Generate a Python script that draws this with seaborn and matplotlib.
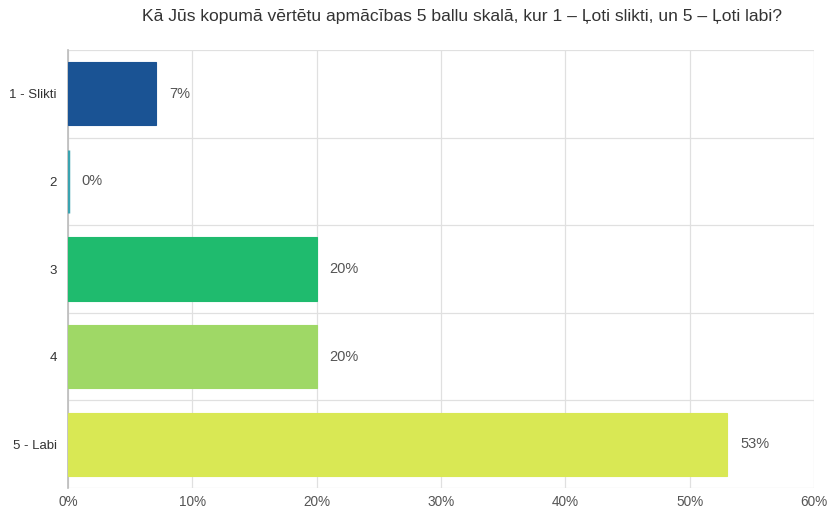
import matplotlib
matplotlib.use("Agg")
import matplotlib.pyplot as plt
import seaborn as sns
import pandas as pd
import numpy as np

categories = ["1 - Slikti", "2", "3", "4", "5 - Labi"]
values = [7.1, 0.0, 20.0, 20.0, 53.0]
labels = ["7%", "0%", "20%", "20%", "53%"]
colors = ["#1a5394", "#3aa3b0", "#1fbb6e", "#9fd866", "#d9e854"]
xticks = [0, 10, 20, 30, 40, 50, 60]
title = "Kā Jūs kopumā vērtētu apmācības 5 ballu skalā, kur 1 – Ļoti slikti, un 5 – Ļoti labi?"

sns.set_theme(style="white")
plt.rcParams['font.family'] = ['Liberation Sans', 'DejaVu Sans']

df = pd.DataFrame({"cat": categories, "val": values})

fig = plt.figure(figsize=(8.27, 5.08), dpi=100)
ax = fig.add_axes([68/827, 1-488/508, (814-68)/827, (488-50)/508])

sns.barplot(data=df, y="cat", x="val", hue="cat", palette=colors, order=categories,
            hue_order=categories, orient="h", width=0.72, saturation=1, legend=False,
            ax=ax, zorder=3)

for p, c, v in zip(ax.patches, colors, values):
    p.set_edgecolor(c)
    p.set_linewidth(2.5 if v == 0 else 0.8)
    p.set_zorder(5)

ax.set_xlim(0, 60)
ax.set_ylim(4.5, -0.5)
ax.set_xticks(xticks)
ax.set_xticklabels([f"{t}%" for t in xticks])
ax.set_yticks(range(len(categories)))
ax.set_yticklabels(categories)
ax.set_yticks(np.arange(-0.5, len(categories), 1.0), minor=True)
ax.set_xlabel("")
ax.set_ylabel("")

grid_c = "#e0e0e0"
ax.grid(True, axis="x", which="major", color=grid_c, linewidth=0.9, zorder=0)
ax.grid(True, axis="y", which="minor", color=grid_c, linewidth=0.9, zorder=0)
ax.grid(False, axis="y", which="major")
ax.tick_params(axis="y", which="major", length=0, pad=8, labelsize=9.5, labelcolor="#333333")
ax.tick_params(axis="y", which="minor", length=8, color=grid_c, width=0.9)
ax.tick_params(axis="x", which="major", length=0, pad=5, labelsize=9.8, labelcolor="#555555")

for s in ["top", "right", "bottom"]:
    ax.spines[s].set_visible(False)
ax.spines["left"].set_color("#bbbbbb")
ax.spines["left"].set_linewidth(1.2)
ax.spines["left"].set_zorder(2)

for i, (v, lab) in enumerate(zip(values, labels)):
    ax.annotate(lab, xy=(v, i), xytext=(13, 0), textcoords="offset pixels",
                ha="left", va="center", fontsize=10.5, color="#555555")

fig.text(462/827, 1-17/508, title, ha="center", va="center", fontsize=12.6, color="#333333")

fig.savefig("out.png", dpi=100)
